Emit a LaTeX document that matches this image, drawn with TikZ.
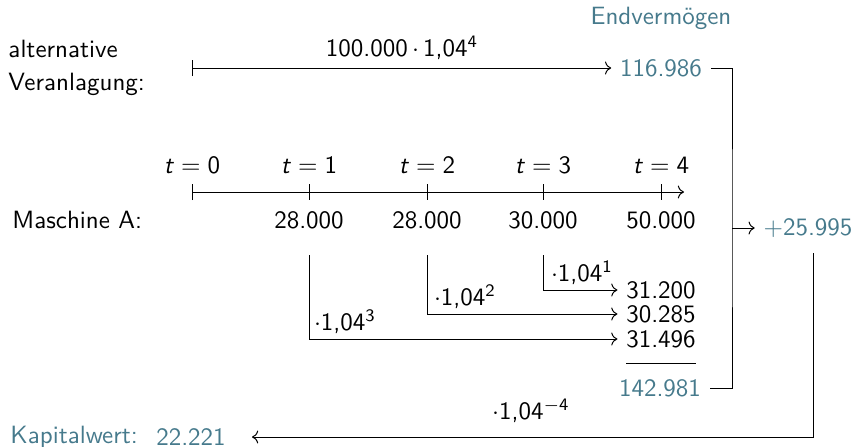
\documentclass[tikz,border=0pt]{standalone}
\definecolor{endteal}{RGB}{70,122,140}
\usepackage{tikz}
\usetikzlibrary{arrows.meta}
\renewcommand{\familydefault}{\sfdefault}
\newcommand{\tmark}[1]{\textit{t}\hspace{2.8pt}$=$\hspace{2.8pt}#1}
\newcommand{\fct}[1]{$\cdot$1,04\textsuperscript{#1}}

\begin{document}
\begin{tikzpicture}[
  x=0.4pt, y=-0.4pt,
  res/.style={text=endteal},
  arw/.style={-{To}},
  barr/.style={{Bar[width=6.4pt]}-{To}},
]
\useasboundingbox (0,0) rectangle (854,447);

% alternative investment
\node[res] (endv) at (661,18) {Endverm\"ogen};
\node[anchor=west, align=left, inner sep=0pt] (alt) at (8,68) {alternative\\[1.2pt]Veranlagung:};
\node (altlbl) at (402,48) {100.000\,$\cdot$\,1,04\textsuperscript{4}};
\coordinate (a0) at (192,68);
\node[res] (fv) at (661,68) {116.986};
\draw[barr] (a0) -- (fv);

% time line
\foreach \i/\x in {0/192,1/309,2/427,3/543,4/661} {
  \coordinate (t\i) at (\x,192);
  \node (tl\i) at (\x,165) {\tmark{\i}};
}
\coordinate (tend) at (684,192);
\draw[barr] (t0) -- (tend);
\foreach \i in {1,...,4}
  \draw (t\i) ++(0,-8) -- ++(0,16);

\node[anchor=west, inner sep=0pt] (ma) at (12,220) {Maschine A:};
\node (cf1) at (309,220) {28.000};
\node (cf2) at (427,220) {28.000};
\node (cf3) at (543,220) {30.000};
\node (cf4) at (661,220) {50.000};

% compounding
\node (c3) at (661,290) {31.200};
\node (c2) at (661,314) {30.285};
\node (c1) at (661,339) {31.496};
\coordinate (s1) at (309,255);
\coordinate (s2) at (427,255);
\coordinate (s3) at (543,255);
\draw[arw] (s3) |- (c3);
\draw[arw] (s2) |- (c2);
\draw[arw] (s1) |- (c1);
\node (f1) at (582,273) {\fct{1}};
\node (f2) at (465,297) {\fct{2}};
\node (f3) at (345,322) {\fct{3}};
\draw (626,363) -- (696,363);
\node[res] (sum) at (660,388) {142.981};

% difference
\coordinate (br) at (732,228);
\node[res] (npv) at (808,228) {$+$25.995};
\draw (fv.east) -| (br) |- (sum.east);
\draw[arw] (br) -- (npv);

% discounting
\node[res, anchor=west, inner sep=0pt] (kwl) at (10,437) {Kapitalwert:};
\node[res] (kw) at (191,437) {22.221};
\coordinate (dn) at (813,253);
\coordinate (kwtip) at (252,437);
\draw[arw] (dn) |- (kwtip);
\node (disc) at (531,411) {\fct{$-$4}};
\end{tikzpicture}
\end{document}
